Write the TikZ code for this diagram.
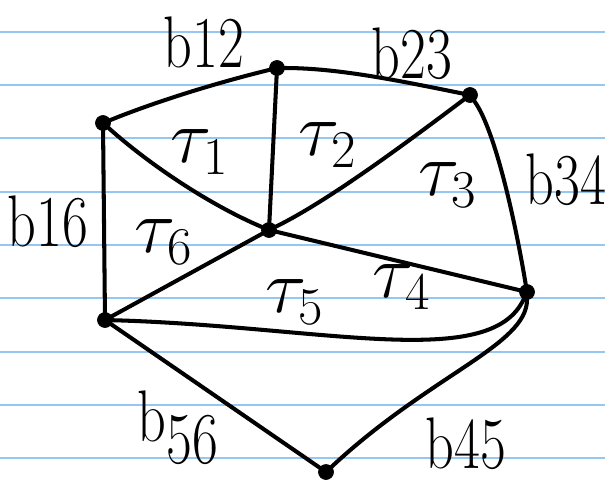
\documentclass[tikz,border=0pt]{standalone}
\usepackage{tikz}
\usetikzlibrary{positioning}
\definecolor{rigoblu}{RGB}{150,198,242}
\newcommand{\tauf}[1]{\scalebox{1.75}{$\tau_{#1}$}}
\newcommand{\latof}[1]{\scalebox{1.0}[1.3]{#1}}
\tikzset{
  vertice/.style={circle, fill=black, draw=black, inner sep=0pt, minimum size=0.3cm},
  lato/.style={line width=2.3pt, line cap=round, line join=round},
  etichetta/.style={font=\fontsize{32}{36}\selectfont, inner sep=0pt},
  faccia/.style={font=\fontsize{24}{28}\selectfont, inner sep=0pt},
  rigo/.style={line width=1.1pt, draw=rigoblu}
}

\begin{document}
\begin{tikzpicture}[x=0.02cm, y=-0.02cm]
  \useasboundingbox (0,0) rectangle (605,487);
  % Righe del quaderno
  \foreach \y in {32,85,138,192,245,298,352,405,458}
    \draw[rigo] (0,\y) -- (605,\y);

  % Vertici
  \node[vertice] (v1) at (103,123) {};
  \node[vertice] (v2) at (277,68) {};
  \node[vertice] (v3) at (470,95) {};
  \node[vertice] (v4) at (527,292) {};
  \node[vertice] (v5) at (326,472) {};
  \node[vertice] (v6) at (105,320) {};
  \node[vertice] (c) at (269,230) {};

  % Lati esterni
  \draw[lato] (v1) .. controls (160,100) and (220,82) .. (v2);
  \draw[lato] (v2) .. controls (340,68) and (405,82) .. (v3);
  \draw[lato] (v3) .. controls (495,130) and (515,220) .. (v4);
  \draw[lato] (v4) .. controls (527,345) and (430,375) .. (v5);
  \draw[lato] (v5) -- (v6);
  \draw[lato] (v6) -- (v1);
  \draw[lato] (v6) .. controls (320,326) and (490,372) .. (v4);

  % Lati interni
  \draw[lato] (v1) .. controls (150,165) and (210,205) .. (c);
  \draw[lato] (v2) -- (c);
  \draw[lato] (c) .. controls (330,200) and (410,140) .. (v3);
  \draw[lato] (c) -- (v4);
  \draw[lato] (c) -- (v6);

  % Etichette dei lati
  \node[etichetta] (b12) at (204,42) {\latof{b12}};
  \node[etichetta] (b23) at (412,54) {\latof{b23}};
  \node[etichetta] (b34) at (566,180) {\latof{b34}};
  \node[etichetta] (b16) at (48,222) {\latof{b16}};
  \node[etichetta] (b56) at (178,428) {\latof{b\raisebox{-0.3em}{56}}};
  \node[etichetta] (b45) at (466,444) {\latof{b45}};

  % Etichette delle facce
  \node[faccia] (t1) at (200,152) {\tauf{1}};
  \node[faccia] (t2) at (328,145) {\tauf{2}};
  \node[faccia] (t3) at (448,185) {\tauf{3}};
  \node[faccia] (t4) at (402,287) {\tauf{4}};
  \node[faccia] (t5) at (295,302) {\tauf{5}};
  \node[faccia] (t6) at (164,242) {\tauf{6}};
\end{tikzpicture}
\end{document}
